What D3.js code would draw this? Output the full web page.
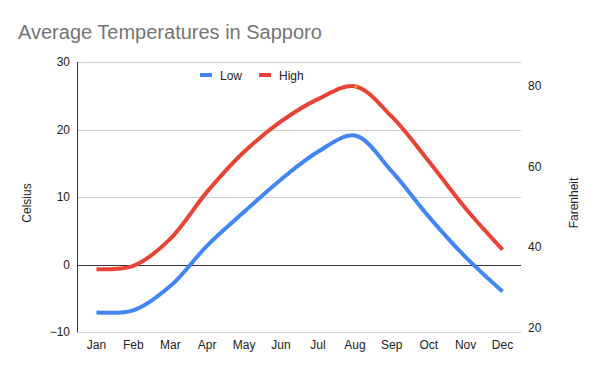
<!DOCTYPE html>
<html>
<head>
<meta charset="utf-8">
<script src="https://cdn.jsdelivr.net/npm/d3@7"></script>
<style>
  body { margin: 0; background: #fff; }
  text { font-family: Arial, "Liberation Sans", sans-serif; }
</style>
</head>
<body>
<div id="chart"></div>
<script>
// values
let months = ['Jan', 'Feb', 'Mar', 'Apr', 'May', 'Jun', 'Jul', 'Aug', 'Sep', 'Oct', 'Nov', 'Dec']
let low = [-7.1, -6.8, -3.2, 2.8, 7.8, 12.6, 16.7, 19.1, 13.8, 7.1, 1.1, -4.0]
let high = [-0.7, -0.2, 3.8, 10.8, 16.7, 21.2, 24.5, 26.4, 21.9, 15.3, 8.3, 2.2]
let celsiusTicks = [-10, 0, 10, 20, 30]
let fahrenheitTicks = [20, 40, 60, 80]
let seriesNames = ['Low', 'High']
let seriesColors = ['#4285f4', '#ea4335']

let width = 600, height = 371
let margin = { top: 62, right: 79, bottom: 39, left: 78 }

let svg = d3.select('#chart')
            .append('svg')
            .attr('width', width)
            .attr('height', height)

let x = d3.scaleBand()
          .domain(months)
          .range([margin.left, width - margin.right])

let y = d3.scaleLinear()
          .domain([-10, 30])
          .range([height - margin.bottom, margin.top])

let y2 = d3.scaleLinear()
           .domain([18.9, 86])
           .range([height - margin.bottom, margin.top])

// title
svg.append('text')
    .attr('x', 18)
    .attr('y', 39)
    .attr('fill', '#757575')
    .style('font-size', '20px')
    .text('Average Temperatures in Sapporo')

// gridlines
svg.append('g')
    .selectAll('line')
    .data(celsiusTicks)
    .enter()
    .append('line')
    .attr('x1', margin.left)
    .attr('x2', width - margin.right)
    .attr('y1', d => Math.round(y(d)) + 0.5)
    .attr('y2', d => Math.round(y(d)) + 0.5)
    .attr('stroke', d => d === 0 ? '#333' : '#ccc')
    .attr('stroke-width', 1)

// left axis line
svg.append('line')
    .attr('x1', margin.left - 0.5)
    .attr('x2', margin.left - 0.5)
    .attr('y1', y(30))
    .attr('y2', y(-10) + 0.5)
    .attr('stroke', '#333')

// left tick labels
let leftAxis = svg.append('g')
                  .attr('transform', 'translate(' + (margin.left - 8) + ',0)')
                  .call(d3.axisLeft(y).tickValues(celsiusTicks).tickSize(0).tickPadding(0))
leftAxis.select('.domain').remove()
leftAxis.selectAll('text').style('font-size', '12px').attr('fill', '#222')

// right tick labels
let rightAxis = svg.append('g')
                   .attr('transform', 'translate(' + (width - margin.right + 7) + ',0)')
                   .call(d3.axisRight(y2).tickValues(fahrenheitTicks).tickSize(0).tickPadding(0))
rightAxis.select('.domain').remove()
rightAxis.selectAll('text').style('font-size', '12px').attr('fill', '#222')

// month labels
let bottomAxis = svg.append('g')
                    .attr('transform', 'translate(0,' + (height - margin.bottom + 8) + ')')
                    .call(d3.axisBottom(x).tickSize(0).tickPadding(0))
bottomAxis.select('.domain').remove()
bottomAxis.selectAll('text').style('font-size', '12px').attr('fill', '#222')

// axis titles
svg.append('text')
    .attr('transform', 'translate(31,' + 203 + ') rotate(-90)')
    .attr('text-anchor', 'middle')
    .attr('fill', '#222')
    .style('font-size', '12px')
    .text('Celsius')

svg.append('text')
    .attr('transform', 'translate(578,' + 203 + ') rotate(-90)')
    .attr('text-anchor', 'middle')
    .attr('fill', '#222')
    .style('font-size', '12px')
    .text('Farenheit')

// lines
let line = d3.line()
             .x((d, i) => x(months[i]) + x.bandwidth() / 2)
             .y(d => y(d))
             .curve(d3.curveCatmullRom.alpha(0.5))

svg.append('g')
    .selectAll('path')
    .data([low, high])
    .enter()
    .append('path')
    .attr('d', line)
    .attr('fill', 'none')
    .attr('stroke', (d, i) => seriesColors[i])
    .attr('stroke-width', 4)
    .attr('stroke-linejoin', 'round')

// small highlighted point on the August high
svg.append('circle')
    .attr('cx', x('Aug') + x.bandwidth() / 2 + 1)
    .attr('cy', y(high[7]) + 0.5)
    .attr('r', 1.3)
    .attr('fill', '#fbbc04')

// legend
let legend = svg.append('g')
                .selectAll('g')
                .data(seriesNames)
                .enter()
                .append('g')
                .attr('transform', (d, i) => 'translate(' + (200 + i * 59) + ',75)')
legend.append('rect')
    .attr('x', 0)
    .attr('y', -2)
    .attr('width', 12)
    .attr('height', 4)
    .attr('fill', (d, i) => seriesColors[i])
legend.append('text')
    .attr('x', 20)
    .attr('y', 4.5)
    .attr('fill', '#222')
    .style('font-size', '12px')
    .text(d => d)
</script>
</body>
</html>
